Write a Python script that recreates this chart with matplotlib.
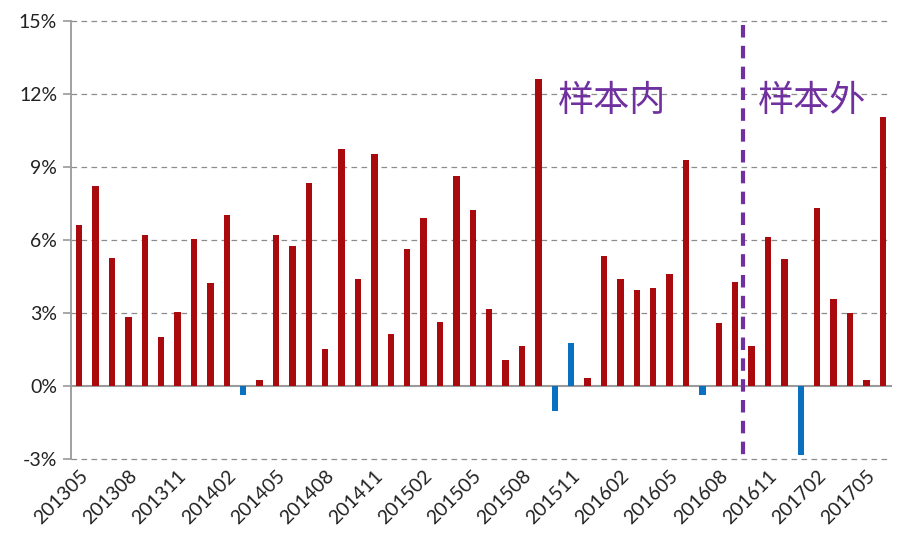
import matplotlib
matplotlib.use("Agg")
import matplotlib.pyplot as plt
import numpy as np

months = ["201305","201306","201307","201308","201309","201310","201311","201312",
          "201401","201402","201403","201404","201405","201406","201407","201408",
          "201409","201410","201411","201412","201501","201502","201503","201504",
          "201505","201506","201507","201508","201509","201510","201511","201512",
          "201601","201602","201603","201604","201605","201606","201607","201608",
          "201609","201610","201611","201612","201701","201702","201703","201704",
          "201705","201706"]
values = [6.61, 8.23, 5.27, 2.82, 6.20, 2.00, 3.05, 6.03,
          4.22, 7.01, -0.39, 0.26, 6.20, 5.74, 8.36, 1.54,
          9.72, 4.40, 9.54, 2.12, 5.63, 6.91, 2.65, 8.65,
          7.25, 3.17, 1.08, 1.66, 12.62, -1.04, 1.77, 0.32,
          5.33, 4.39, 3.93, 4.03, 4.62, 9.30, -0.39, 2.59,
          4.29, 1.66, 6.13, 5.21, -2.82, 7.31, 3.57, 2.98,
          0.26, 11.04]
blue_months = ["201403", "201510", "201511", "201607", "201701"]
yticks = [-3, 0, 3, 6, 9, 12, 15]
split_after = "201609"
label_in = "样本内"
label_out = "样本外"

RED = "#A80A0E"
BLUE = "#0A70C0"
PURPLE = "#7030A0"

plt.rcParams['font.family'] = ['Lato', 'DejaVu Sans']

fig = plt.figure(figsize=(9, 5.49), dpi=100)
ax = fig.add_axes([71/900, 1 - 459/549, (891-71)/900, (459-21)/549])

x = np.arange(len(months))
colors = [BLUE if m in blue_months else RED for m in months]
ax.bar(x, values, width=0.4, color=colors, zorder=3)

ax.set_xlim(-0.5, len(months) - 0.5)
ax.set_ylim(-3, 15)
ax.set_yticks(yticks)
ax.set_yticklabels([f"{t}%" for t in yticks], fontsize=14, color="#222222")
for t in yticks:
    if t == 0:
        ax.axhline(t, color="#9a9a9a", lw=1.5, zorder=2, clip_on=False)
    else:
        ax.axhline(t, color="#8c8c8c", lw=0.9, ls=(0, (4.5, 3.5)), zorder=1,
                   clip_on=False)

for s in ["top", "right", "bottom"]:
    ax.spines[s].set_visible(False)
ax.spines["left"].set_color("#9a9a9a")
ax.spines["left"].set_linewidth(1.3)
ax.tick_params(axis="y", direction="out", length=6, color="#9a9a9a", width=1.2, pad=4)

tick_idx = list(range(0, len(months), 3))
ax.set_xticks(tick_idx)
ax.set_xticklabels([months[i] for i in tick_idx], rotation=45, ha="right",
                   rotation_mode="anchor", fontsize=14, color="#222222")
ax.tick_params(axis="x", length=0, pad=6)

sx = months.index(split_after) + 0.5
ax.plot([sx, sx], [14.85, -3.1], color=PURPLE, lw=3, ls=(0, (3, 2)),
        zorder=4, clip_on=False)

cjk = ['Noto Sans CJK SC', 'DejaVu Sans']
ax.text(29.2, 11.7, label_in, fontsize=26, color=PURPLE, family=cjk,
        ha="left", va="center", zorder=5)
ax.text(41.4, 11.7, label_out, fontsize=26, color=PURPLE, family=cjk,
        ha="left", va="center", zorder=5)

fig.savefig("out.png", dpi=100)
